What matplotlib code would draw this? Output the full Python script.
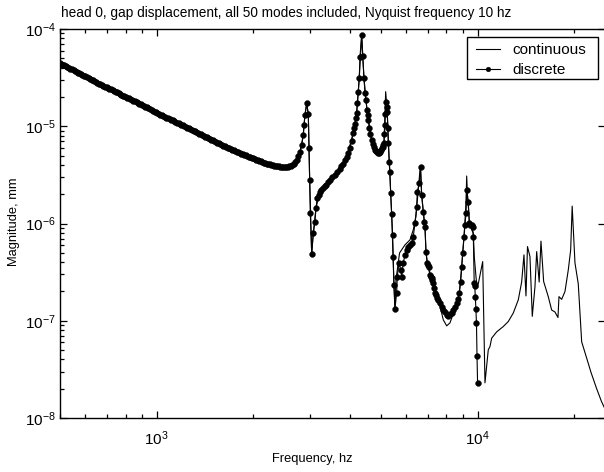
import matplotlib
matplotlib.use("Agg")
import matplotlib.pyplot as plt
from matplotlib.ticker import NullFormatter, LogLocator
from matplotlib.patches import Rectangle

plt.rcParams['font.family'] = ['Liberation Sans', 'DejaVu Sans']
plt.rcParams['mathtext.fontset'] = 'custom'
plt.rcParams['mathtext.rm'] = 'Liberation Sans'
plt.rcParams['mathtext.it'] = 'Liberation Sans:italic'
plt.rcParams['mathtext.bf'] = 'Liberation Sans:bold'
plt.rcParams['axes.unicode_minus'] = False

# ---------------- data ----------------
# discrete series: low-frequency stretch (read every few pixels)
disc_freq_low = [
    500, 505, 511, 516, 522, 527, 533, 539, 545, 551,
    557, 563, 569, 575, 581, 587, 594, 600, 607, 614,
    620, 627, 634, 640, 647, 654, 661, 668, 676, 683,
    691, 698, 706, 713, 721, 729, 737, 745, 753, 761,
    769, 777, 786, 794, 803, 811, 820, 829, 838, 847,
    856, 866, 875, 884, 894, 903, 913, 923, 933, 943,
    954, 964, 974, 985, 995, 1006, 1017, 1028, 1039, 1050,
    1062, 1073, 1085, 1097, 1108, 1121, 1133, 1145, 1157, 1170,
    1182, 1195, 1208, 1221, 1234, 1247, 1261, 1275, 1289, 1303,
    1317, 1331, 1345, 1360, 1374, 1389, 1404, 1419, 1435, 1450,
    1466, 1482, 1498, 1514, 1531, 1547, 1564, 1581, 1598, 1615,
    1633, 1650, 1668, 1686, 1704, 1723, 1742, 1760, 1779, 1799,
    1818, 1838, 1858, 1878, 1898, 1918, 1939, 1960, 1981, 2003,
    2025, 2047, 2069, 2091, 2114, 2137, 2160, 2183, 2206, 2230,
    2254, 2278, 2303, 2328, 2354, 2379, 2405, 2431, 2457, 2483,
    2510, 2537, 2565, 2593, 2621, 2649, 2678, 2707, 2736, 2766,
    2796,
]
disc_mag_low = [
    4.47e-5, 4.39e-5, 4.31e-5, 4.23e-5, 4.15e-5, 4.07e-5, 4.00e-5, 3.92e-5, 3.85e-5, 3.78e-5,
    3.71e-5, 3.64e-5, 3.57e-5, 3.51e-5, 3.45e-5, 3.38e-5, 3.32e-5, 3.26e-5, 3.20e-5, 3.14e-5,
    3.08e-5, 3.02e-5, 2.97e-5, 2.91e-5, 2.86e-5, 2.80e-5, 2.75e-5, 2.70e-5, 2.66e-5, 2.61e-5,
    2.56e-5, 2.51e-5, 2.47e-5, 2.43e-5, 2.39e-5, 2.35e-5, 2.31e-5, 2.27e-5, 2.23e-5, 2.19e-5,
    2.15e-5, 2.11e-5, 2.07e-5, 2.03e-5, 2.00e-5, 1.96e-5, 1.93e-5, 1.89e-5, 1.86e-5, 1.83e-5,
    1.80e-5, 1.77e-5, 1.74e-5, 1.71e-5, 1.68e-5, 1.64e-5, 1.61e-5, 1.58e-5, 1.56e-5, 1.53e-5,
    1.50e-5, 1.47e-5, 1.44e-5, 1.41e-5, 1.39e-5, 1.36e-5, 1.34e-5, 1.31e-5, 1.29e-5, 1.27e-5,
    1.25e-5, 1.23e-5, 1.21e-5, 1.19e-5, 1.17e-5, 1.15e-5, 1.13e-5, 1.11e-5, 1.09e-5, 1.07e-5,
    1.06e-5, 1.04e-5, 1.02e-5, 1.00e-5, 9.84e-6, 9.66e-6, 9.49e-6, 9.32e-6, 9.16e-6, 9.00e-6,
    8.84e-6, 8.68e-6, 8.53e-6, 8.38e-6, 8.23e-6, 8.09e-6, 7.95e-6, 7.81e-6, 7.67e-6, 7.53e-6,
    7.40e-6, 7.27e-6, 7.14e-6, 7.02e-6, 6.90e-6, 6.77e-6, 6.65e-6, 6.53e-6, 6.42e-6, 6.32e-6,
    6.23e-6, 6.13e-6, 6.04e-6, 5.94e-6, 5.84e-6, 5.75e-6, 5.67e-6, 5.57e-6, 5.48e-6, 5.39e-6,
    5.31e-6, 5.24e-6, 5.17e-6, 5.09e-6, 5.02e-6, 4.95e-6, 4.88e-6, 4.81e-6, 4.75e-6, 4.68e-6,
    4.61e-6, 4.54e-6, 4.48e-6, 4.42e-6, 4.36e-6, 4.29e-6, 4.23e-6, 4.18e-6, 4.13e-6, 4.09e-6,
    4.05e-6, 4.00e-6, 3.96e-6, 3.93e-6, 3.90e-6, 3.88e-6, 3.87e-6, 3.85e-6, 3.84e-6, 3.83e-6,
    3.82e-6, 3.83e-6, 3.85e-6, 3.87e-6, 3.90e-6, 4.00e-6, 4.13e-6, 4.30e-6, 4.50e-6, 4.90e-6,
    5.44e-6,
]
# discrete series: resonance region up to the 10 kHz Nyquist limit
disc_freq_high = [
    2831, 2864, 2878, 2899, 2935, 2969, 2984, 2999, 3012, 3042,
    3077, 3115, 3137, 3167, 3195, 3228, 3263, 3298, 3335, 3371,
    3420, 3468, 3530, 3596, 3660, 3727, 3767, 3807, 3858, 3909,
    3956, 4003, 4050, 4099, 4125, 4150, 4175, 4200, 4225, 4249,
    4279, 4301, 4354, 4386, 4426, 4458, 4490, 4523, 4545, 4565,
    4598, 4635, 4677, 4721, 4755, 4789, 4823, 4858, 4893, 4929,
    4965, 5000, 5030, 5061, 5085, 5109, 5128, 5146, 5165, 5183,
    5207, 5231, 5250, 5269, 5307, 5333, 5360, 5399, 5437, 5461,
    5488, 5528, 5596, 5620, 5690, 5760, 5801, 5868, 5940, 6013,
    6081, 6156, 6231, 6304, 6381, 6460, 6488, 6582, 6648, 6696,
    6774, 6822, 6857, 6906, 6970, 7020, 7072, 7107, 7150, 7194,
    7235, 7277, 7320, 7366, 7410, 7457, 7543, 7636, 7730, 7820,
    7916, 8013, 8105, 8203, 8304, 8400, 8503, 8607, 8689, 8770,
    8858, 8922, 8986, 9071, 9136, 9202, 9248, 9355, 9422, 9500,
    9586, 9650, 9700, 9760, 9800, 9840, 9880, 9920, 9960, 10000,
]
disc_mag_high = [
    6.42e-6, 8.14e-6, 1.03e-5, 1.31e-5, 1.72e-5, 1.33e-5, 5.98e-6, 2.81e-6, 1.28e-6, 4.87e-7,
    8.00e-7, 1.04e-6, 1.45e-6, 1.83e-6, 1.97e-6, 2.11e-6, 2.21e-6, 2.32e-6, 2.41e-6, 2.49e-6,
    2.65e-6, 2.81e-6, 2.98e-6, 3.16e-6, 3.39e-6, 3.64e-6, 3.86e-6, 4.10e-6, 4.45e-6, 4.84e-6,
    5.37e-6, 5.98e-6, 7.06e-6, 8.53e-6, 9.49e-6, 1.06e-5, 1.21e-5, 1.37e-5, 1.75e-5, 2.25e-5,
    3.14e-5, 5.16e-5, 8.68e-5, 5.28e-5, 3.14e-5, 2.20e-5, 1.86e-5, 1.47e-5, 1.30e-5, 1.16e-5,
    9.60e-6, 8.23e-6, 7.23e-6, 6.58e-6, 6.13e-6, 5.71e-6, 5.51e-6, 5.38e-6, 5.31e-6, 5.31e-6,
    5.45e-6, 5.71e-6, 5.91e-6, 6.13e-6, 6.42e-6, 6.73e-6, 8.23e-6, 1.03e-5, 1.35e-5, 1.78e-5,
    1.58e-5, 1.40e-5, 9.60e-6, 6.73e-6, 4.30e-6, 3.39e-6, 2.06e-6, 1.25e-6, 7.63e-7, 4.54e-7,
    2.34e-7, 1.33e-7, 1.93e-7, 2.83e-7, 3.94e-7, 3.33e-7, 2.83e-7, 3.94e-7, 4.76e-7, 5.35e-7,
    5.75e-7, 6.03e-7, 6.32e-7, 7.28e-7, 1.01e-6, 1.48e-6, 2.11e-6, 2.61e-6, 3.82e-6, 1.97e-6,
    1.32e-6, 1.04e-6, 9.23e-7, 5.11e-7, 3.94e-7, 3.71e-7, 3.58e-7, 2.96e-7, 2.85e-7, 2.76e-7,
    2.60e-7, 2.45e-7, 2.15e-7, 1.93e-7, 1.82e-7, 1.72e-7, 1.64e-7, 1.53e-7, 1.39e-7, 1.29e-7,
    1.23e-7, 1.15e-7, 1.13e-7, 1.16e-7, 1.21e-7, 1.29e-7, 1.39e-7, 1.53e-7, 1.68e-7, 1.93e-7,
    2.51e-7, 3.58e-7, 4.98e-7, 7.28e-7, 9.67e-7, 1.28e-6, 2.21e-6, 1.67e-6, 1.01e-6, 9.70e-7,
    9.67e-7, 9.20e-7, 7.30e-7, 2.45e-7, 2.30e-7, 1.76e-7, 1.33e-7, 9.50e-8, 4.30e-8, 2.30e-8,
]

cont_freq = [
    500, 600, 700, 800, 1000, 1200, 1500, 2000, 2300, 2500,
    2650, 2740, 2800, 2864, 2899, 2935, 2969, 2999, 3042, 3077,
    3137, 3228, 3468, 3727, 3909, 4099, 4200, 4279, 4354, 4426,
    4523, 4677, 4858, 5000, 5109, 5172, 5231, 5307, 5399, 5488,
    5528, 5568, 5714, 5940, 6156, 6304, 6427, 6534, 6629, 6696,
    6774, 6857, 6906, 6970, 7107, 7277, 7457, 7636, 7820, 8013,
    8203, 8400, 8607, 8770, 8922, 9071, 9202, 9248, 9300, 9422,
    9586, 9696, 9767, 9906, 10000, 10373, 10545, 10798, 10930, 11064,
    11470, 12024, 12462, 12918, 13391, 13721, 13948, 14151, 14305, 14562,
    14805, 15095, 15280, 15556, 15758, 16065, 16604, 17014, 17422, 17803,
    17930, 18281, 18720, 19169, 19500, 19712, 20110, 20594, 21102, 21872,
    22558, 23499, 24322, 24940,
]
cont_mag = [
    4.47e-5, 3.27e-5, 2.51e-5, 2.01e-5, 1.38e-5, 1.03e-5, 7.13e-6, 4.69e-6, 3.97e-6, 3.82e-6,
    3.95e-6, 4.56e-6, 5.44e-6, 8.14e-6, 1.31e-5, 1.72e-5, 1.33e-5, 2.81e-6, 4.87e-7, 8.00e-7,
    1.45e-6, 2.11e-6, 2.81e-6, 3.64e-6, 4.84e-6, 8.53e-6, 1.37e-5, 3.14e-5, 8.68e-5, 3.14e-5,
    1.47e-5, 7.23e-6, 5.38e-6, 5.71e-6, 6.73e-6, 2.27e-5, 1.40e-5, 4.30e-6, 1.25e-6, 2.34e-7,
    1.33e-7, 2.63e-7, 4.98e-7, 6.03e-7, 6.78e-7, 8.59e-7, 1.18e-6, 2.21e-6, 3.84e-6, 1.97e-6,
    1.32e-6, 9.23e-7, 5.11e-7, 3.94e-7, 2.96e-7, 2.45e-7, 1.72e-7, 1.42e-7, 1.02e-7, 8.86e-8,
    9.51e-8, 1.18e-7, 1.50e-7, 1.93e-7, 3.58e-7, 7.28e-7, 1.60e-6, 3.08e-6, 1.97e-6, 1.09e-6,
    8.59e-7, 8.00e-7, 4.54e-7, 2.63e-7, 2.20e-7, 4.06e-7, 2.30e-8, 5.02e-8, 5.43e-8, 6.62e-8,
    7.69e-8, 8.72e-8, 9.81e-8, 1.20e-7, 1.64e-7, 2.51e-7, 4.76e-7, 1.80e-7, 5.79e-7, 4.57e-7,
    1.11e-7, 2.25e-7, 5.14e-7, 2.50e-7, 6.59e-7, 2.53e-7, 1.77e-7, 1.29e-7, 1.23e-7, 1.08e-7,
    1.77e-7, 1.66e-7, 2.00e-7, 3.33e-7, 5.35e-7, 1.51e-6, 3.94e-7, 2.39e-7, 6.07e-8, 4.13e-8,
    2.95e-8, 2.00e-8, 1.48e-8, 1.24e-8,
]

series_labels = ['continuous', 'discrete']
title_text = 'head 0, gap displacement, all 50 modes included, Nyquist frequency 10 hz'
x_label = 'Frequency, hz'
y_label = 'Magnitude, mm'

disc_freq = disc_freq_low + disc_freq_high
disc_mag = disc_mag_low + disc_mag_high

# ---------------- figure ----------------
W, H = 604, 472
fig = plt.figure(figsize=(W / 100, H / 100), dpi=100)
ax = fig.add_axes([60 / W, 1 - 418 / H, 545.3 / W, 389 / H])

ax.plot(cont_freq, cont_mag, color='black', lw=0.8, label=series_labels[0], zorder=2)
ax.plot(disc_freq, disc_mag, color='black', lw=0.8, marker='o', ms=4.2,
        markeredgewidth=0.3, markeredgecolor='black',
        label=series_labels[1], zorder=3)

ax.set_xscale('log')
ax.set_yscale('log')
ax.set_xlim(500, 25000)
ax.set_ylim(1e-8, 1e-4)

ax.xaxis.set_major_locator(LogLocator(base=10))
ax.xaxis.set_minor_locator(LogLocator(base=10, subs=range(2, 10)))
ax.yaxis.set_minor_locator(LogLocator(base=10, subs=range(2, 10)))
ax.xaxis.set_minor_formatter(NullFormatter())
ax.yaxis.set_minor_formatter(NullFormatter())

ax.tick_params(which='both', direction='in', top=True, right=True, width=0.9, colors='black')
ax.tick_params(which='major', length=5, labelsize=11)
ax.tick_params(which='minor', length=3)
ax.tick_params(axis='y', which='minor', right=False)
ax.tick_params(axis='x', which='major', pad=8)
ax.tick_params(axis='y', which='major', pad=3)
for s in ax.spines.values():
    s.set_linewidth(1.0)

fig.text(286.5 / W, 1 - 16.5 / H, title_text, fontsize=9.8, ha='center', va='baseline')
ax.set_xlabel(x_label, fontsize=9.3)
ax.set_ylabel(y_label, fontsize=9.3)
ax.xaxis.set_label_coords((312 - 60) / 545.3, (418 - 453) / 389)
ax.yaxis.set_label_coords((20 - 60) / 545.3, (418 - 222) / 389)

# legend: entries placed without frame, frame drawn at the reference position
frame = Rectangle((467 / W, 1 - 79 / H), 131 / W, 42 / H,
                  transform=fig.transFigure, fill=True, facecolor='white',
                  edgecolor='black', linewidth=1.0, zorder=10, clip_on=False)
ax.add_patch(frame)
leg = ax.legend(loc='upper left', bbox_to_anchor=(476 / W, 1 - 43 / H),
                bbox_transform=fig.transFigure, borderaxespad=0, borderpad=0,
                fontsize=11, handlelength=1.57, handletextpad=0.78,
                labelspacing=0.42, numpoints=1, frameon=False, markerscale=0.8)
leg.set_zorder(11)

fig.savefig('out.png', dpi=100)
